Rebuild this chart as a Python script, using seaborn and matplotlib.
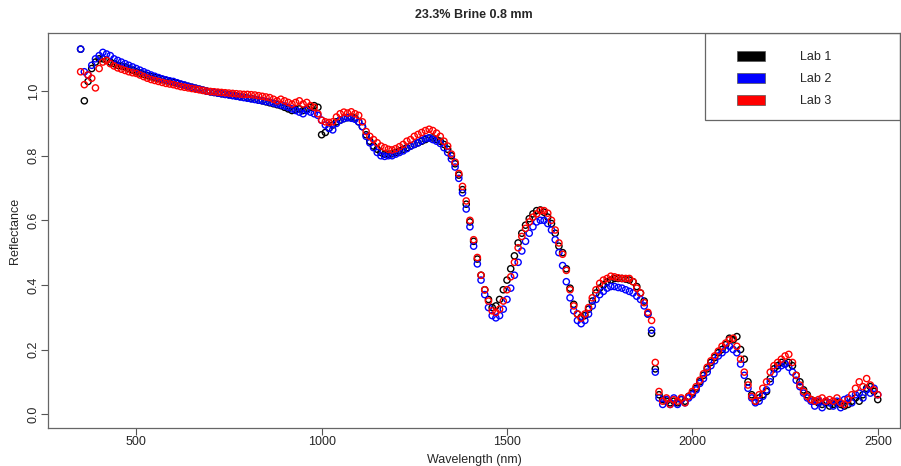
import numpy as np
import pandas as pd
import seaborn as sns
import matplotlib.pyplot as plt
from matplotlib.patches import Patch, Rectangle

# wavelength grid (nm) and reflectance every 10 nm
wavelength = list(range(350, 2501, 10))

lab1 = [
    1.13, 0.97, 1.03, 1.07, 1.09, 1.10, 1.10, 1.095, 1.09, 1.085,
    1.08, 1.078, 1.075, 1.07, 1.065, 1.06, 1.056, 1.052, 1.048, 1.045,
    1.042, 1.039, 1.036, 1.033, 1.03, 1.027, 1.024, 1.021, 1.018, 1.015,
    1.012, 1.009, 1.006, 1.003, 1.0, 0.998, 0.996, 0.994, 0.992, 0.99,
    0.989, 0.987, 0.985, 0.983, 0.981, 0.979, 0.977, 0.975, 0.972, 0.97,
    0.967, 0.964, 0.961, 0.958, 0.955, 0.95, 0.945, 0.94, 0.942, 0.945,
    0.94, 0.945, 0.95, 0.955, 0.95, 0.865, 0.872, 0.885, 0.895, 0.905,
    0.91, 0.915, 0.918, 0.92, 0.917, 0.905, 0.89, 0.865, 0.845, 0.83,
    0.82, 0.81, 0.805, 0.805, 0.806, 0.81, 0.815, 0.82, 0.825, 0.83,
    0.835, 0.84, 0.845, 0.85, 0.855, 0.855, 0.85, 0.845, 0.835, 0.82,
    0.80, 0.775, 0.74, 0.695, 0.65, 0.595, 0.535, 0.48, 0.43, 0.385,
    0.355, 0.33, 0.335, 0.355, 0.385, 0.415, 0.45, 0.49, 0.53, 0.56,
    0.585, 0.605, 0.62, 0.63, 0.632, 0.625, 0.61, 0.59, 0.56, 0.52,
    0.50, 0.45, 0.39, 0.34, 0.31, 0.30, 0.305, 0.325, 0.35, 0.375,
    0.39, 0.40, 0.41, 0.415, 0.42, 0.42, 0.42, 0.418, 0.415, 0.41,
    0.395, 0.375, 0.35, 0.31, 0.25, 0.14, 0.06, 0.045, 0.04, 0.035,
    0.04, 0.035, 0.045, 0.04, 0.055, 0.065, 0.08, 0.10, 0.12, 0.14,
    0.16, 0.175, 0.19, 0.20, 0.215, 0.235, 0.23, 0.24, 0.20, 0.17,
    0.10, 0.06, 0.04, 0.05, 0.06, 0.07, 0.11, 0.14, 0.15, 0.16,
    0.155, 0.16, 0.15, 0.12, 0.10, 0.075, 0.06, 0.045, 0.04, 0.035,
    0.03, 0.035, 0.025, 0.03, 0.035, 0.03, 0.025, 0.03, 0.04, 0.05,
    0.04, 0.06, 0.08, 0.085, 0.07, 0.045,
]

lab2 = [
    1.13, 1.06, 1.05, 1.08, 1.10, 1.11, 1.12, 1.115, 1.11, 1.10,
    1.095, 1.09, 1.085, 1.08, 1.075, 1.07, 1.065, 1.06, 1.055, 1.05,
    1.046, 1.042, 1.038, 1.035, 1.032, 1.03, 1.026, 1.022, 1.019, 1.015,
    1.012, 1.009, 1.006, 1.003, 1.0, 0.998, 0.996, 0.994, 0.992, 0.99,
    0.988, 0.986, 0.984, 0.982, 0.98, 0.978, 0.976, 0.974, 0.972, 0.97,
    0.968, 0.966, 0.963, 0.96, 0.957, 0.954, 0.95, 0.945, 0.94, 0.935,
    0.93, 0.94, 0.935, 0.93, 0.925, 0.91, 0.895, 0.885, 0.88, 0.90,
    0.91, 0.915, 0.918, 0.916, 0.913, 0.905, 0.89, 0.86, 0.84, 0.825,
    0.81, 0.80, 0.798, 0.80, 0.80, 0.805, 0.81, 0.815, 0.822, 0.83,
    0.835, 0.84, 0.847, 0.853, 0.855, 0.85, 0.845, 0.838, 0.825, 0.81,
    0.79, 0.765, 0.73, 0.685, 0.635, 0.58, 0.52, 0.465, 0.415, 0.37,
    0.33, 0.305, 0.298, 0.305, 0.325, 0.355, 0.39, 0.43, 0.47, 0.505,
    0.535, 0.56, 0.58, 0.595, 0.60, 0.60, 0.59, 0.57, 0.54, 0.50,
    0.46, 0.41, 0.36, 0.32, 0.29, 0.28, 0.29, 0.31, 0.335, 0.355,
    0.37, 0.38, 0.39, 0.395, 0.395, 0.392, 0.39, 0.385, 0.38, 0.375,
    0.365, 0.355, 0.335, 0.31, 0.26, 0.13, 0.05, 0.03, 0.045, 0.03,
    0.05, 0.03, 0.045, 0.035, 0.05, 0.06, 0.075, 0.095, 0.11, 0.13,
    0.15, 0.165, 0.18, 0.19, 0.20, 0.21, 0.20, 0.19, 0.155, 0.12,
    0.08, 0.05, 0.035, 0.04, 0.055, 0.075, 0.10, 0.125, 0.14, 0.15,
    0.155, 0.145, 0.13, 0.105, 0.085, 0.065, 0.05, 0.04, 0.025, 0.04,
    0.02, 0.04, 0.035, 0.025, 0.04, 0.02, 0.045, 0.05, 0.035, 0.06,
    0.065, 0.05, 0.075, 0.065, 0.08, 0.06,
]

lab3 = [
    1.06, 1.02, 1.05, 1.04, 1.01, 1.07, 1.09, 1.095, 1.085, 1.078,
    1.072, 1.068, 1.064, 1.06, 1.057, 1.055, 1.05, 1.045, 1.04, 1.036,
    1.033, 1.03, 1.027, 1.024, 1.022, 1.02, 1.017, 1.014, 1.012, 1.01,
    1.008, 1.006, 1.004, 1.002, 1.0, 0.999, 0.998, 0.997, 0.996, 0.995,
    0.994, 0.993, 0.992, 0.991, 0.99, 0.99, 0.989, 0.988, 0.986, 0.984,
    0.982, 0.98, 0.975, 0.97, 0.975, 0.97, 0.965, 0.96, 0.965, 0.97,
    0.96, 0.965, 0.955, 0.95, 0.93, 0.91, 0.905, 0.903, 0.905, 0.92,
    0.93, 0.935, 0.932, 0.936, 0.93, 0.925, 0.905, 0.875, 0.86, 0.85,
    0.84, 0.83, 0.825, 0.82, 0.818, 0.822, 0.828, 0.835, 0.845, 0.85,
    0.86, 0.866, 0.872, 0.878, 0.882, 0.878, 0.87, 0.86, 0.845, 0.83,
    0.805, 0.78, 0.745, 0.705, 0.66, 0.60, 0.54, 0.485, 0.43, 0.385,
    0.35, 0.32, 0.315, 0.325, 0.35, 0.385, 0.425, 0.47, 0.515, 0.55,
    0.575, 0.595, 0.61, 0.62, 0.63, 0.63, 0.622, 0.60, 0.57, 0.53,
    0.495, 0.445, 0.385, 0.335, 0.31, 0.297, 0.31, 0.33, 0.36, 0.385,
    0.405, 0.415, 0.42, 0.427, 0.425, 0.422, 0.42, 0.42, 0.42, 0.41,
    0.39, 0.375, 0.345, 0.315, 0.29, 0.16, 0.07, 0.04, 0.05, 0.03,
    0.045, 0.04, 0.05, 0.035, 0.055, 0.07, 0.085, 0.105, 0.125, 0.145,
    0.165, 0.18, 0.195, 0.21, 0.22, 0.23, 0.235, 0.21, 0.17, 0.13,
    0.09, 0.055, 0.04, 0.06, 0.08, 0.10, 0.13, 0.15, 0.16, 0.17,
    0.18, 0.185, 0.16, 0.12, 0.09, 0.07, 0.055, 0.045, 0.04, 0.045,
    0.05, 0.04, 0.045, 0.04, 0.05, 0.035, 0.03, 0.045, 0.06, 0.08,
    0.10, 0.085, 0.11, 0.09, 0.075, 0.06,
]

labs = ["Lab 1", "Lab 2", "Lab 3"]
colors = ["black", "blue", "red"]

df = pd.concat([
    pd.DataFrame({"Wavelength": wavelength, "Reflectance": vals, "Lab": lab})
    for lab, vals in zip(labs, [lab1, lab2, lab3])
])

sns.set_style("white")
plt.rcParams["font.family"] = ["Liberation Sans", "DejaVu Sans"]

fig = plt.figure(figsize=(9.01, 4.66), dpi=100)
ax = fig.add_axes([48 / 901, 38 / 466, 852 / 901, 395 / 466])

sns.scatterplot(data=df, x="Wavelength", y="Reflectance", hue="Lab",
                palette=dict(zip(labs, colors)), s=20, ax=ax, legend=False)
# open circles like R's pch=1
pts = ax.collections[0]
fc = pts.get_facecolors()
pts.set_edgecolors(fc)
pts.set_facecolors("none")
pts.set_linewidths(1.0)

ax.set_xlim(262, 2560)
ax.set_ylim(-0.043, 1.18)
ax.set_xticks([500, 1000, 1500, 2000, 2500])
ax.set_yticks([0.0, 0.2, 0.4, 0.6, 0.8, 1.0])
ax.set_yticklabels(["0.0", "0.2", "0.4", "0.6", "0.8", "1.0"], rotation=90, va="center")
ax.tick_params(axis="both", direction="out", length=5, width=0.8, color="#555555",
               labelsize=9, pad=1, left=True, bottom=True)
for sp in ax.spines.values():
    sp.set_color("#666666")
    sp.set_linewidth(0.9)

ax.set_xlabel("Wavelength (nm)", fontsize=9, labelpad=4)
ax.set_ylabel("Reflectance", fontsize=9, labelpad=5)
ax.set_title("23.3% Brine 0.8 mm", fontsize=9, fontweight="bold", pad=11)

# legend box in the top right corner, as in R
x0 = (705 - 48) / 852
y0 = (433 - 125) / 395
ax.add_patch(Rectangle((x0, y0), 1 - x0, 1 - y0, transform=ax.transAxes,
                       fill=False, edgecolor="#666666", linewidth=0.9))
handles = [Patch(facecolor=c, edgecolor="#555555", linewidth=0.5) for c in colors]
ax.legend(handles=handles, labels=labs, loc="upper left",
          bbox_to_anchor=((737 - 48) / 852, (433 - 56) / 395),
          frameon=False, fontsize=9, handlelength=2.2, handleheight=0.8,
          handletextpad=2.8, labelspacing=0.8, borderpad=0, borderaxespad=0)

fig.savefig("out.png", dpi=100)
